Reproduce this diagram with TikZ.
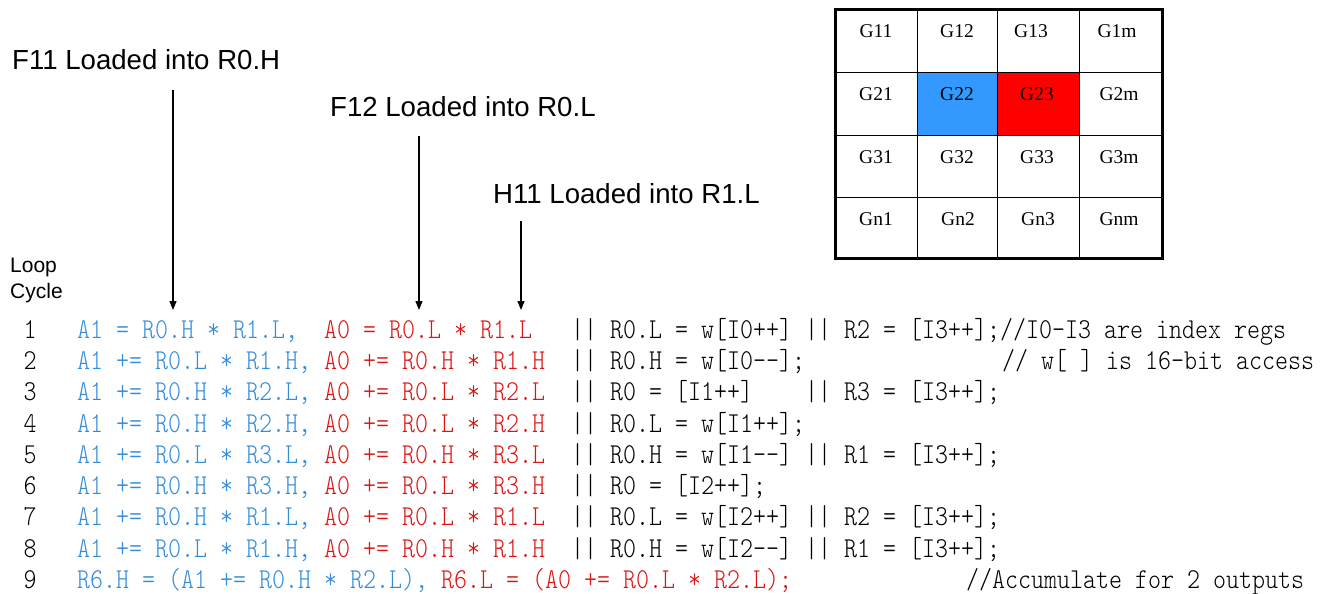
\documentclass[tikz,border=0pt]{standalone}
\usepackage{fontspec}
\setmainfont{Liberation Serif}
\setsansfont{Liberation Sans}
\setmonofont[FakeStretch=0.8598]{lmmonolt10-regular.otf}
\usetikzlibrary{arrows.meta}
\definecolor{codeblue}{RGB}{51,140,220}
\definecolor{codered}{RGB}{220,20,20}
\definecolor{cellblue}{RGB}{51,153,255}
\definecolor{cellred}{RGB}{255,0,0}
\tikzset{
  code/.style={inner sep=0pt, anchor=base west, font=\ttfamily\fontsize{28.8}{29}\selectfont},
  blu/.style={code, text=codeblue},
  rd/.style={code, text=codered},
  lbl/.style={inner sep=0pt, anchor=base west, font=\sffamily\fontsize{27.6}{28}\selectfont},
  small/.style={inner sep=0pt, anchor=base west, font=\sffamily\fontsize{21}{21}\selectfont},
  gtxt/.style={inner sep=0pt, anchor=base, font=\fontsize{19.5}{20}\selectfont},
  ptr/.style={-{Triangle[length=9pt,width=7pt]}, line width=1.2pt},
}
\frenchspacing
\begin{document}
\begin{tikzpicture}[x=1pt,y=-1pt]
\useasboundingbox (0,0) rectangle (1331,594);
% labels and arrows
\node[lbl] (f11) at (12,70) {F11 Loaded into R0.H};
\node[lbl] (f12) at (330,117) {F12 Loaded into R0.L};
\node[lbl] (h11) at (493,203) {H11 Loaded into R1.L};
\coordinate (s1) at (173,90);  \coordinate (e1) at (173,310);
\coordinate (s2) at (419,136); \coordinate (e2) at (419,310);
\coordinate (s3) at (521,221); \coordinate (e3) at (521,310);
\draw[ptr] (s1) -- (e1);
\draw[ptr] (s2) -- (e2);
\draw[ptr] (s3) -- (e3);
\node[small] (loop) at (10,272) {Loop};
\node[small] (cycle) at (10,298) {Cycle};
% grid
\fill[cellblue] (917,73) rectangle (997,135);
\fill[cellred] (997,73) rectangle (1079,135);
\draw[line width=1pt] (917,10) -- (917,258) (997,10) -- (997,258) (1079,10) -- (1079,258)
  (835,73) -- (1162,73) (835,135) -- (1162,135) (835,197) -- (1162,197);
\draw[line width=3pt] (835,10) rectangle (1162,258);
\node[gtxt] (g11) at (876,38) {G11};
\node[gtxt] (g12) at (957,38) {G12};
\node[gtxt] (g13) at (1031,38) {G13};
\node[gtxt] (g1m) at (1117,38) {G1m};
\node[gtxt] (g21) at (876,100) {G21};
\node[gtxt] (g22) at (957,100) {G22};
\node[gtxt] (g23) at (1037,100) {G23};
\node[gtxt] (g2m) at (1119,100) {G2m};
\node[gtxt] (g31) at (876,163) {G31};
\node[gtxt] (g32) at (957,163) {G32};
\node[gtxt] (g33) at (1037,163) {G33};
\node[gtxt] (g3m) at (1119,163) {G3m};
\node[gtxt] (gn1) at (876,225) {Gn1};
\node[gtxt] (gn2) at (958,225) {Gn2};
\node[gtxt] (gn3) at (1038,225) {Gn3};
\node[gtxt] (gnm) at (1119,225) {Gnm};
% code lines
\foreach \i in {1,...,9} {
  \node[code] (n\i) at (23.5,{338.3+(\i-1)*31.25}) {\i};
}
% line 1
\node[blu] (b1) at (77,338.3) {A1 = R0.H * R1.L,};
\node[rd]  (r1) at (324,338.3) {A0 = R0.L * R1.L};
\node[code] (k1) at (571,338.3) {||~R0.L~=~w[I0++]~||~R2~=~[I3++];//I0-I3~are~index~regs};
% line 2
\node[blu] (b2) at (77,369.55) {A1 += R0.L * R1.H,};
\node[rd]  (r2) at (324,369.55) {A0 += R0.H * R1.H};
\node[code] (k2) at (571,369.55) {||~R0.H~=~w[I0--];};
\node[code] (c2) at (1002,369.55) {//~w[~]~is~16-bit~access};
% line 3
\node[blu] (b3) at (77,400.8) {A1 += R0.H * R2.L,};
\node[rd]  (r3) at (324,400.8) {A0 += R0.L * R2.L};
\node[code] (k3) at (571,400.8) {||~R0~=~[I1++]~~~~||~R3~=~[I3++];};
% line 4
\node[blu] (b4) at (77,432.05) {A1 += R0.H * R2.H,};
\node[rd]  (r4) at (324,432.05) {A0 += R0.L * R2.H};
\node[code] (k4) at (571,432.05) {||~R0.L~=~w[I1++];};
% line 5
\node[blu] (b5) at (77,463.3) {A1 += R0.L * R3.L,};
\node[rd]  (r5) at (324,463.3) {A0 += R0.H * R3.L};
\node[code] (k5) at (571,463.3) {||~R0.H~=~w[I1--]~||~R1~=~[I3++];};
% line 6
\node[blu] (b6) at (77,494.55) {A1 += R0.H * R3.H,};
\node[rd]  (r6) at (324,494.55) {A0 += R0.L * R3.H};
\node[code] (k6) at (571,494.55) {||~R0~=~[I2++];};
% line 7
\node[blu] (b7) at (77,525.8) {A1 += R0.H * R1.L,};
\node[rd]  (r7) at (324,525.8) {A0 += R0.L * R1.L};
\node[code] (k7) at (571,525.8) {||~R0.L~=~w[I2++]~||~R2~=~[I3++];};
% line 8
\node[blu] (b8) at (77,557.05) {A1 += R0.L * R1.H,};
\node[rd]  (r8) at (324,557.05) {A0 += R0.H * R1.H};
\node[code] (k8) at (571,557.05) {||~R0.H~=~w[I2--]~||~R1~=~[I3++];};
% line 9
\node[blu] (b9) at (77,588.3) {R6.H~=~(A1~+=~R0.H~*~R2.L),};
\node[rd]  (r9) at (441,588.3) {R6.L~=~(A0~+=~R0.L~*~R2.L);};
\node[code] (c9) at (966,588.3) {//Accumulate~for~2~outputs};
\end{tikzpicture}
\end{document}
